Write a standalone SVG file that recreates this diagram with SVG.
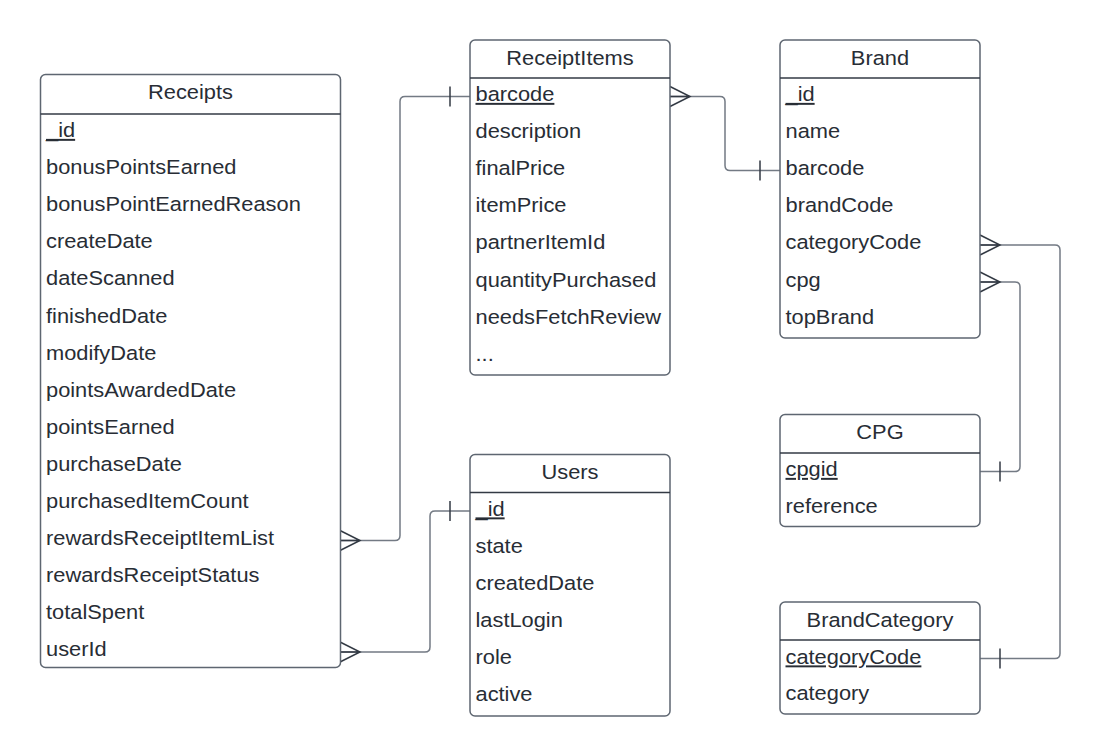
<svg xmlns="http://www.w3.org/2000/svg" width="1100" height="756" viewBox="0 0 1100 756">
<style>
.box{fill:#ffffff;stroke:#5e6671;stroke-width:1.5}
.div{stroke:#333a44;stroke-width:1.5}
.t{font-family:"Liberation Sans",Arial,sans-serif;font-size:19.5px;fill:#282d35}
.h{text-anchor:middle}
.k{text-decoration:underline}
.c{fill:none;stroke:#737a84;stroke-width:1.5;stroke-linejoin:round}
.e{fill:none;stroke:#333a44;stroke-width:1.5}
</style>
<rect width="1100" height="756" fill="#ffffff"/>
<g id="connectors">
  <path class="c" d="M340,540.5 H395 Q400,540.5 400,535.5 V101.5 Q400,96.5 405,96.5 H470"/>
  <path class="e" d="M340,530.5 L360,540.5 L340,550.5 M340,540.5 H360 M450,86.5 V106.5"/>
  <path class="c" d="M340,652 H425 Q430,652 430,647 V516 Q430,511 435,511 H470"/>
  <path class="e" d="M340,642 L360,652 L340,662 M340,652 H360 M450,501 V521"/>
  <path class="c" d="M670,96.5 H720 Q725,96.5 725,101.5 V165.5 Q725,170.5 730,170.5 H780"/>
  <path class="e" d="M670,86.5 L690,96.5 L670,106.5 M670,96.5 H690 M760,160.5 V180.5"/>
  <path class="c" d="M980,245 H1055 Q1060,245 1060,250 V653.5 Q1060,658.5 1055,658.5 H980"/>
  <path class="e" d="M980,235 L1000,245 L980,255 M980,245 H1000 M1000,648.5 V668.5"/>
  <path class="c" d="M980,282 H1015 Q1020,282 1020,287 V466.5 Q1020,471.5 1015,471.5 H980"/>
  <path class="e" d="M980,272 L1000,282 L980,292 M980,282 H1000 M1000,461.5 V481.5"/>
</g>
<g id="Receipts">
  <rect class="box" x="40.5" y="74.5" width="300" height="593" rx="5"/>
  <line class="div" x1="40.5" y1="114" x2="340.5" y2="114"/>
  <text class="t h" transform="translate(190.5,99) scale(1.12,1)">Receipts</text>
  <text class="t k" transform="translate(46,137) scale(1.12,1)">_id</text>
  <text class="t" transform="translate(46,174.1) scale(1.12,1)">bonusPointsEarned</text>
  <text class="t" transform="translate(46,211.2) scale(1.12,1)">bonusPointEarnedReason</text>
  <text class="t" transform="translate(46,248.3) scale(1.12,1)">createDate</text>
  <text class="t" transform="translate(46,285.4) scale(1.12,1)">dateScanned</text>
  <text class="t" transform="translate(46,322.5) scale(1.12,1)">finishedDate</text>
  <text class="t" transform="translate(46,359.6) scale(1.12,1)">modifyDate</text>
  <text class="t" transform="translate(46,396.7) scale(1.12,1)">pointsAwardedDate</text>
  <text class="t" transform="translate(46,433.8) scale(1.12,1)">pointsEarned</text>
  <text class="t" transform="translate(46,470.9) scale(1.12,1)">purchaseDate</text>
  <text class="t" transform="translate(46,508) scale(1.12,1)">purchasedItemCount</text>
  <text class="t" transform="translate(46,545.1) scale(1.12,1)">rewardsReceiptItemList</text>
  <text class="t" transform="translate(46,582.2) scale(1.12,1)">rewardsReceiptStatus</text>
  <text class="t" transform="translate(46,619.3) scale(1.12,1)">totalSpent</text>
  <text class="t" transform="translate(46,656.4) scale(1.12,1)">userId</text>
</g>
<g id="ReceiptItems">
  <rect class="box" x="470" y="40" width="200" height="335" rx="5"/>
  <line class="div" x1="470" y1="78" x2="670" y2="78"/>
  <text class="t h" transform="translate(570,64.5) scale(1.12,1)">ReceiptItems</text>
  <text class="t k" transform="translate(475.5,101) scale(1.12,1)">barcode</text>
  <text class="t" transform="translate(475.5,138.1) scale(1.12,1)">description</text>
  <text class="t" transform="translate(475.5,175.2) scale(1.12,1)">finalPrice</text>
  <text class="t" transform="translate(475.5,212.3) scale(1.12,1)">itemPrice</text>
  <text class="t" transform="translate(475.5,249.4) scale(1.12,1)">partnerItemId</text>
  <text class="t" transform="translate(475.5,286.5) scale(1.12,1)">quantityPurchased</text>
  <text class="t" transform="translate(475.5,323.6) scale(1.12,1)">needsFetchReview</text>
  <text class="t" transform="translate(475.5,360.7) scale(1.12,1)">...</text>
</g>
<g id="Brand">
  <rect class="box" x="780" y="40" width="200" height="298" rx="5"/>
  <line class="div" x1="780" y1="78" x2="980" y2="78"/>
  <text class="t h" transform="translate(880,64.5) scale(1.12,1)">Brand</text>
  <text class="t k" transform="translate(785.5,101) scale(1.12,1)">_id</text>
  <text class="t" transform="translate(785.5,138.1) scale(1.12,1)">name</text>
  <text class="t" transform="translate(785.5,175.2) scale(1.12,1)">barcode</text>
  <text class="t" transform="translate(785.5,212.3) scale(1.12,1)">brandCode</text>
  <text class="t" transform="translate(785.5,249.4) scale(1.12,1)">categoryCode</text>
  <text class="t" transform="translate(785.5,286.5) scale(1.12,1)">cpg</text>
  <text class="t" transform="translate(785.5,323.6) scale(1.12,1)">topBrand</text>
</g>
<g id="CPG">
  <rect class="box" x="780" y="414.5" width="200" height="112" rx="5"/>
  <line class="div" x1="780" y1="453" x2="980" y2="453"/>
  <text class="t h" transform="translate(880,439) scale(1.12,1)">CPG</text>
  <text class="t k" transform="translate(785.5,476) scale(1.12,1)">cpgid</text>
  <text class="t" transform="translate(785.5,512.5) scale(1.12,1)">reference</text>
</g>
<g id="BrandCategory">
  <rect class="box" x="780" y="602" width="200" height="112" rx="5"/>
  <line class="div" x1="780" y1="640" x2="980" y2="640"/>
  <text class="t h" transform="translate(880,626.5) scale(1.12,1)">BrandCategory</text>
  <text class="t k" transform="translate(785.5,663.5) scale(1.12,1)">categoryCode</text>
  <text class="t" transform="translate(785.5,700) scale(1.12,1)">category</text>
</g>
<g id="Users">
  <rect class="box" x="470" y="454.5" width="200" height="261.5" rx="5"/>
  <line class="div" x1="470" y1="492.5" x2="670" y2="492.5"/>
  <text class="t h" transform="translate(570,479) scale(1.12,1)">Users</text>
  <text class="t k" transform="translate(475.5,515.5) scale(1.12,1)">_id</text>
  <text class="t" transform="translate(475.5,552.6) scale(1.12,1)">state</text>
  <text class="t" transform="translate(475.5,589.7) scale(1.12,1)">createdDate</text>
  <text class="t" transform="translate(475.5,626.8) scale(1.12,1)">lastLogin</text>
  <text class="t" transform="translate(475.5,663.9) scale(1.12,1)">role</text>
  <text class="t" transform="translate(475.5,701) scale(1.12,1)">active</text>
</g>
</svg>
